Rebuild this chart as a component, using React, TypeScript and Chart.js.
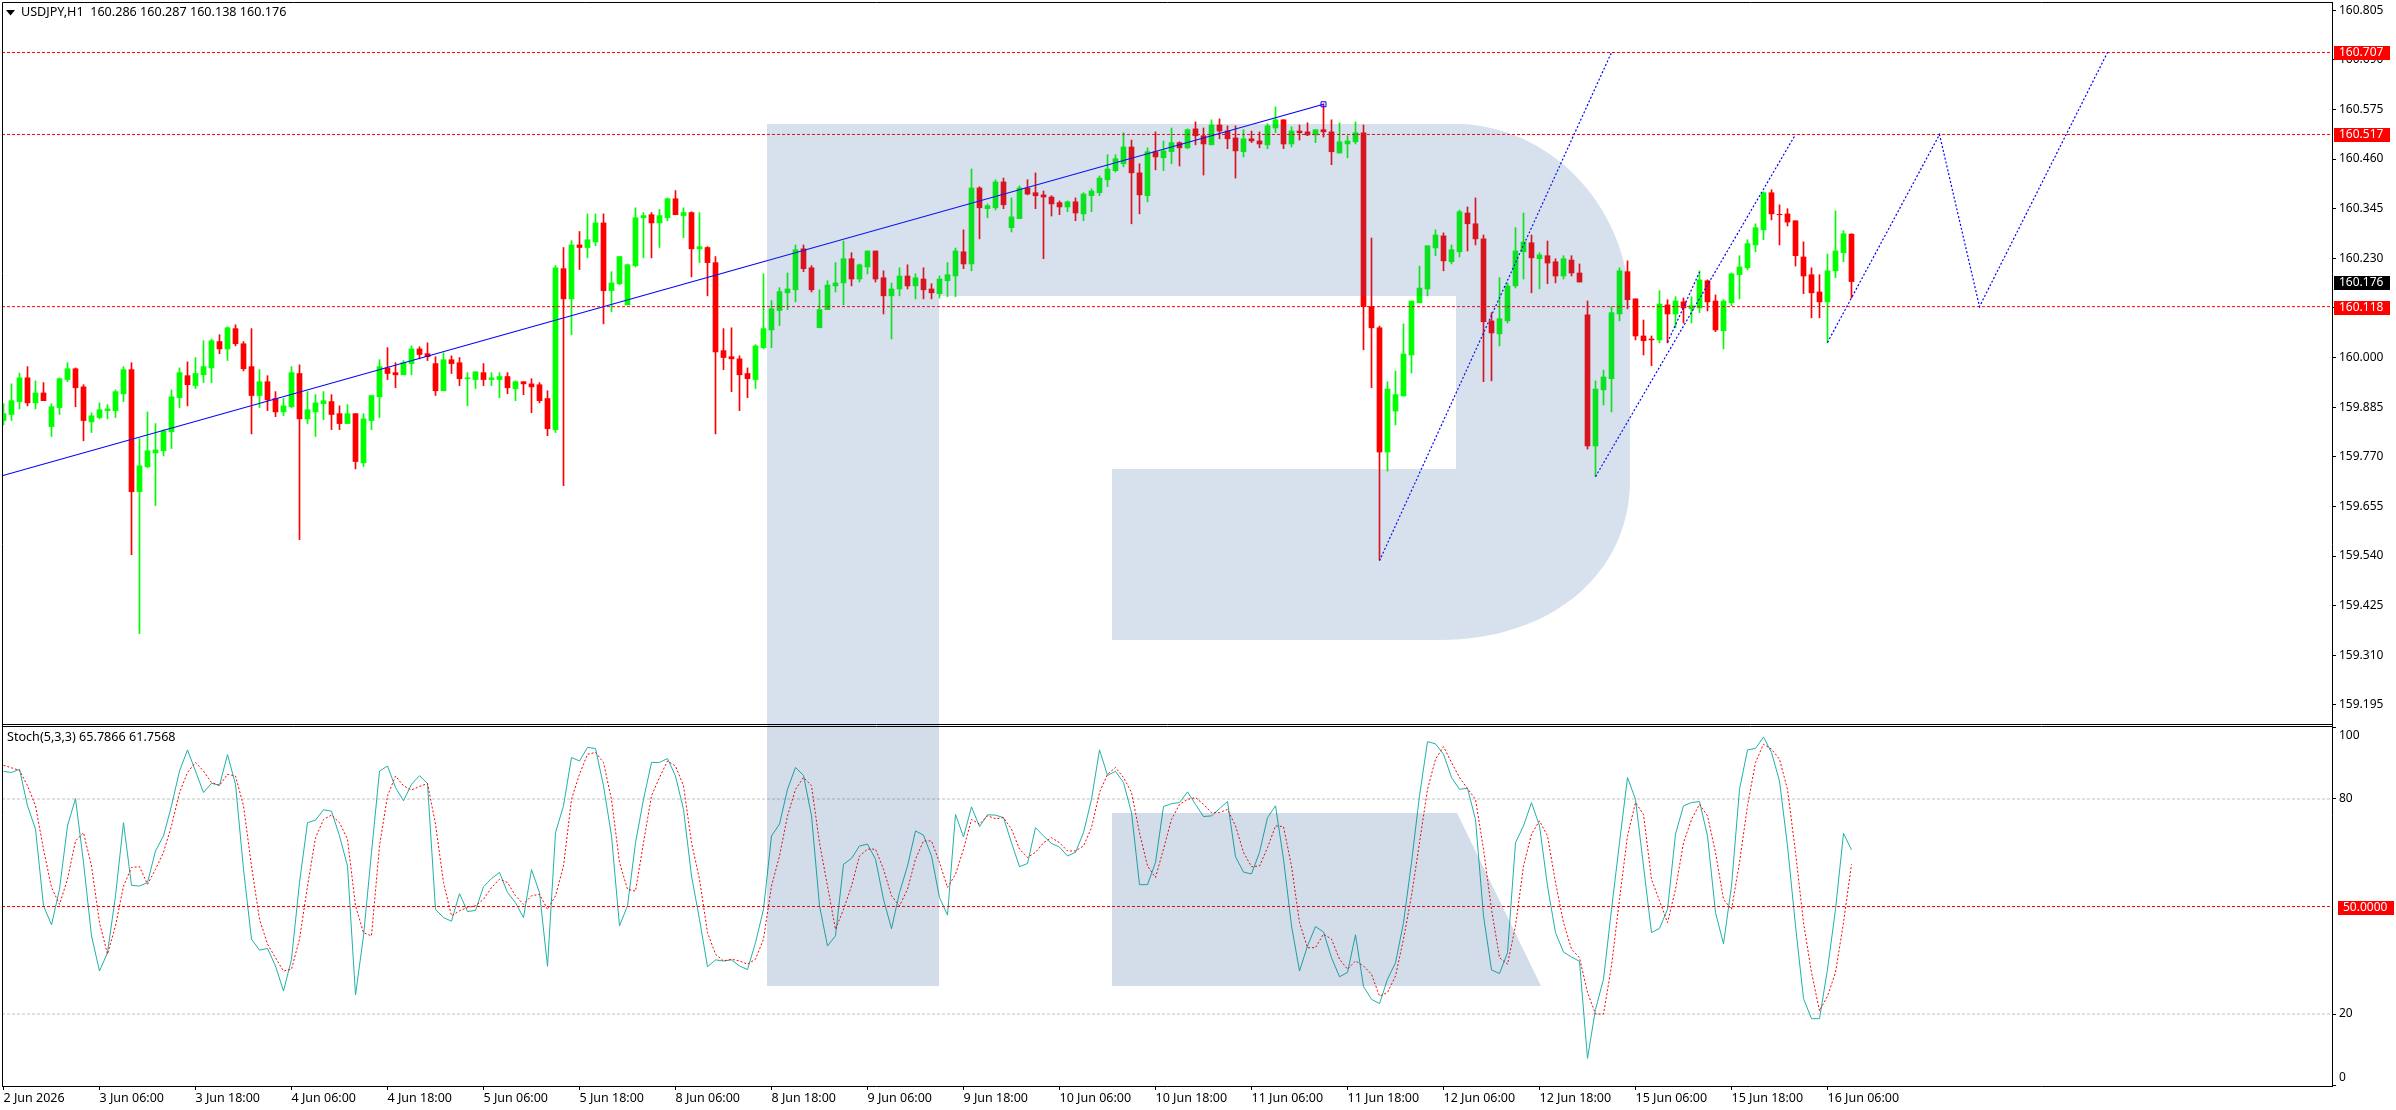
import React, { useEffect, useRef } from "react";
import { Chart, registerables } from "chart.js";

Chart.register(...registerables);

const opens = [
159.854,159.868,159.898,159.953,159.895,159.918,159.840,159.884,159.949,159.974,
159.932,159.851,159.861,159.877,159.877,159.916,159.972,159.689,159.747,159.779,
159.784,159.828,159.907,159.958,159.935,159.960,159.976,160.037,160.020,160.067,
160.032,159.979,159.912,159.944,159.905,159.874,159.886,159.963,159.858,159.874,
159.893,159.898,159.870,159.847,159.870,159.756,159.854,159.909,159.976,159.965,
159.960,159.986,160.020,160.009,159.986,159.923,159.995,159.988,159.951,159.949,
159.965,159.949,159.949,159.956,159.928,159.944,159.939,159.937,159.905,159.833,
160.206,160.136,160.261,160.255,160.268,160.312,160.155,160.171,160.122,160.213,
160.324,160.331,160.312,160.324,160.368,160.329,160.336,160.252,160.255,160.220,
160.016,160.002,159.997,159.963,159.949,160.023,160.064,160.109,160.150,160.157,
160.252,160.208,160.069,160.111,160.166,160.173,160.229,160.182,160.210,160.247,
160.185,160.143,160.159,160.189,160.166,160.182,160.159,160.148,160.178,160.189,
160.245,160.217,160.393,160.345,160.347,160.407,160.301,160.322,160.393,160.382,
160.377,160.372,160.359,160.349,160.361,160.333,160.375,160.382,160.412,160.433,
160.449,160.488,160.428,160.375,160.477,160.463,160.477,160.498,160.486,160.530,
160.514,160.493,160.539,160.525,160.509,160.477,160.507,160.502,160.493,160.532,
160.551,160.495,160.525,160.523,160.516,160.528,160.523,160.474,160.495,160.500,
160.521,160.118,160.069,159.781,159.876,159.911,160.006,160.127,160.159,160.254,
160.282,160.222,160.245,160.335,160.310,160.275,160.085,160.055,160.085,160.166,
160.245,160.266,160.229,160.236,160.222,160.189,160.226,160.196,160.099,159.795,
159.925,159.951,160.101,160.199,160.136,160.050,160.043,160.041,160.122,160.101,
160.129,160.113,160.115,160.178,160.131,160.062,160.127,160.192,160.208,160.261,
160.296,160.382,160.332,160.333,160.317,160.233,160.192,160.152,160.129,160.201,
160.243,160.286];
const highs = [
159.893,159.939,159.964,159.979,159.946,159.942,159.893,159.953,159.988,159.976,
159.937,159.872,159.895,159.891,159.925,159.979,159.988,159.812,159.874,159.847,
159.833,159.925,159.976,159.990,160.000,160.039,160.043,160.053,160.071,160.076,
160.037,160.067,159.972,159.958,159.921,159.905,159.979,159.983,159.921,159.914,
159.921,159.914,159.888,159.891,159.870,159.870,159.912,159.995,160.023,159.988,
159.993,160.027,160.025,160.034,160.002,160.011,160.004,160.000,159.965,159.967,
159.986,159.965,159.965,159.965,159.946,159.944,159.951,159.942,159.923,160.213,
160.255,160.271,160.292,160.333,160.333,160.333,160.199,160.234,160.217,160.347,
160.336,160.336,160.343,160.370,160.387,160.347,160.338,160.336,160.257,160.234,
160.067,160.069,160.004,159.976,160.030,160.194,160.132,160.162,160.196,160.261,
160.261,160.213,160.157,160.178,160.220,160.270,160.243,160.217,160.247,160.247,
160.201,160.173,160.208,160.215,160.194,160.208,160.171,160.189,160.220,160.254,
160.296,160.437,160.396,160.356,160.412,160.416,160.370,160.398,160.412,160.428,
160.386,160.375,160.363,160.363,160.370,160.382,160.391,160.421,160.470,160.470,
160.521,160.504,160.449,160.486,160.523,160.502,160.532,160.500,160.530,160.546,
160.532,160.551,160.553,160.537,160.537,160.528,160.525,160.523,160.542,160.581,
160.551,160.535,160.539,160.544,160.528,160.588,160.551,160.544,160.514,160.546,
160.539,160.277,160.073,159.944,159.969,160.078,160.131,160.212,160.259,160.296,
160.289,160.261,160.342,160.349,160.370,160.284,160.104,160.185,160.173,160.301,
160.335,160.284,160.243,160.270,160.229,160.236,160.236,160.217,160.131,159.946,
159.971,160.118,160.208,160.224,160.136,160.087,160.050,160.155,160.134,160.141,
160.138,160.141,160.201,160.180,160.145,160.134,160.196,160.236,160.273,160.310,
160.384,160.389,160.354,160.345,160.317,160.268,160.208,160.192,160.240,160.340,
160.294,160.287];
const lows = [
159.844,159.854,159.881,159.888,159.881,159.900,159.817,159.868,159.944,159.886,
159.807,159.826,159.858,159.858,159.861,159.898,159.543,159.360,159.745,159.657,
159.772,159.789,159.884,159.888,159.928,159.942,159.942,160.009,159.993,160.027,
159.969,159.823,159.884,159.877,159.863,159.865,159.884,159.578,159.847,159.817,
159.856,159.833,159.833,159.847,159.742,159.747,159.833,159.861,159.949,159.930,
159.960,159.960,159.997,159.993,159.912,159.923,159.963,159.935,159.888,159.928,
159.935,159.935,159.907,159.916,159.900,159.914,159.872,159.895,159.819,159.826,
159.703,160.053,160.204,160.231,160.259,160.078,160.106,160.169,160.122,160.210,
160.231,160.231,160.255,160.317,160.331,160.278,160.187,160.220,160.143,159.823,
159.972,159.921,159.877,159.907,159.928,160.020,160.023,160.074,160.111,160.129,
160.199,160.152,160.069,160.111,160.152,160.122,160.166,160.175,160.194,160.175,
160.101,160.043,160.143,160.159,160.136,160.136,160.136,160.138,160.141,160.141,
160.206,160.201,160.275,160.324,160.342,160.345,160.291,160.322,160.377,160.345,
160.229,160.328,160.331,160.338,160.317,160.317,160.338,160.375,160.396,160.430,
160.442,160.310,160.333,160.361,160.435,160.433,160.449,160.444,160.484,160.493,
160.423,160.493,160.507,160.484,160.416,160.465,160.498,160.486,160.484,160.521,
160.484,160.488,160.504,160.514,160.498,160.511,160.447,160.474,160.463,160.495,
160.018,159.930,159.531,159.737,159.844,159.911,159.964,160.127,160.143,160.236,
160.201,160.217,160.233,160.247,160.261,159.944,159.946,160.027,160.080,160.161,
160.182,160.150,160.159,160.171,160.173,160.182,160.189,160.175,159.788,159.724,
159.890,159.874,160.085,160.113,160.041,160.006,159.981,160.034,160.034,160.069,
160.080,160.080,160.104,160.108,160.060,160.020,160.120,160.136,160.203,160.245,
160.273,160.319,160.261,160.305,160.212,160.148,160.092,160.092,160.034,160.185,
160.222,160.138];
const closes = [
159.870,159.900,159.953,159.895,159.918,159.900,159.886,159.951,159.974,159.930,
159.854,159.865,159.879,159.881,159.921,159.972,159.689,159.749,159.784,159.786,
159.830,159.909,159.965,159.937,159.963,159.979,160.039,160.020,160.069,160.032,
159.974,159.912,159.944,159.902,159.874,159.888,159.965,159.858,159.879,159.895,
159.900,159.868,159.847,159.870,159.759,159.858,159.912,159.979,159.963,159.960,
159.988,160.020,160.007,160.002,159.923,159.995,159.986,159.951,159.953,159.967,
159.949,159.953,159.956,159.930,159.944,159.939,159.932,159.900,159.835,160.208,
160.136,160.261,160.255,160.273,160.312,160.155,160.173,160.234,160.215,160.324,
160.329,160.312,160.329,160.368,160.331,160.336,160.252,160.257,160.220,160.013,
160.000,159.997,159.960,159.951,160.027,160.067,160.113,160.153,160.159,160.250,
160.206,160.157,160.111,160.168,160.173,160.229,160.182,160.215,160.247,160.182,
160.143,160.159,160.189,160.166,160.185,160.157,160.150,160.182,160.192,160.247,
160.217,160.393,160.347,160.352,160.407,160.354,160.326,160.393,160.379,160.375,
160.372,160.356,160.349,160.361,160.335,160.379,160.386,160.416,160.437,160.461,
160.488,160.428,160.377,160.477,160.465,160.479,160.498,160.486,160.528,160.514,
160.495,160.539,160.525,160.507,160.479,160.507,160.502,160.495,160.537,160.551,
160.495,160.525,160.521,160.516,160.528,160.523,160.477,160.500,160.502,160.521,
160.118,160.069,159.781,159.927,159.914,160.008,160.131,160.161,160.259,160.284,
160.224,160.250,160.338,160.310,160.275,160.083,160.057,160.090,160.166,160.247,
160.268,160.231,160.238,160.219,160.189,160.229,160.196,160.175,159.795,159.927,
159.955,160.104,160.201,160.134,160.050,160.039,160.041,160.124,160.101,160.131,
160.115,160.120,160.180,160.129,160.064,160.131,160.194,160.210,160.264,160.301,
160.382,160.333,160.331,160.314,160.236,160.189,160.150,160.129,160.201,160.247,
160.287,160.176];

const stochK = [
87.7,87.4,88.3,78.1,71.6,50.2,44.9,54.8,72.5,80.1,62.3,41.8,32.0,37.1,53.0,73.4,55.9,55.7,56.7,65.5,
69.7,78.1,87.8,93.7,87.8,81.8,84.4,83.8,92.4,84.1,60.4,40.9,37.8,38.3,33.4,26.4,35.3,56.7,73.4,74.1,
77.0,76.6,69.7,61.3,25.3,41.8,65.1,87.8,89.2,83.2,79.5,84.1,86.5,84.3,49.2,46.9,45.9,53.6,48.6,48.9,
55.5,57.8,59.5,53.9,51.1,46.9,60.3,53.9,33.3,70.6,78.1,91.6,90.6,94.4,94.1,83.7,69.7,44.6,50.2,67.8,
79.9,90.2,90.2,91.3,86.4,77.1,58.5,46.4,33.2,35.1,34.8,35.1,33.4,32.4,39.9,49.2,69.7,73.0,82.7,88.8,
86.6,75.3,50.2,39.0,41.8,61.8,63.4,66.9,67.4,63.2,52.0,43.8,53.9,61.3,71.1,69.9,64.1,52.5,47.6,75.7,
69.4,77.8,72.3,75.6,75.5,74.8,67.8,61.1,62.0,72.0,69.7,67.6,66.6,64.1,65.1,70.6,79.9,93.7,86.6,87.7,
84.6,76.2,56.1,56.1,62.3,77.9,78.7,79.0,82.0,78.5,75.1,75.3,77.3,79.3,63.9,59.6,59.1,65.1,74.8,78.1,
63.2,44.6,32.0,39.0,44.4,42.9,35.7,30.4,31.6,42.1,27.7,24.1,22.9,29.7,34.3,45.5,62.3,80.9,96.0,95.4,
92.5,86.0,82.7,83.0,74.3,47.4,32.3,31.3,37.1,67.8,72.5,79.0,72.5,55.7,42.7,37.3,35.9,34.7,7.6,21.3,
29.7,49.2,67.8,86.0,79.9,61.3,42.7,43.9,49.2,70.2,78.1,79.0,79.3,69.7,48.3,39.6,55.7,82.7,93.7,94.1,
97.3,93.0,85.0,66.9,44.6,24.3,18.7,18.7,32.5,49.2,70.4,65.79];
const stochD = [
89.4,88.7,88.0,83.7,78.1,66.0,55.3,50.6,57.6,68.3,70.6,61.3,45.5,36.7,44.6,55.7,60.9,61.1,56.2,60.4,
65.1,72.5,81.8,87.4,90.2,87.8,84.6,83.8,86.9,86.4,78.1,61.3,46.4,39.5,35.7,32.0,32.5,40.9,55.7,69.2,
74.3,75.5,73.4,68.8,50.2,42.7,41.8,66.9,80.9,86.4,83.7,82.5,83.5,84.3,73.0,56.7,47.4,48.8,49.7,50.2,
52.0,55.3,57.6,56.7,53.0,50.6,53.0,53.4,49.2,53.0,61.3,79.9,86.9,92.5,93.0,90.2,79.9,62.3,54.8,54.3,
67.8,80.9,86.0,90.6,89.2,83.7,67.8,57.6,42.7,36.7,34.8,35.3,34.8,33.9,35.3,40.9,55.7,64.1,75.3,82.7,
86.0,83.7,67.8,55.7,43.6,49.2,55.7,64.1,66.0,66.0,60.4,53.0,50.2,54.8,63.2,68.3,68.3,62.3,55.3,59.0,
66.0,74.3,73.0,75.3,74.5,74.8,71.6,66.0,63.7,65.1,67.8,69.2,67.8,65.5,65.5,66.9,72.0,81.8,86.9,88.8,
86.0,81.8,70.6,61.3,58.1,66.0,74.3,78.5,79.9,80.4,78.5,76.2,76.2,77.1,72.5,65.1,61.1,61.3,66.4,72.5,
72.3,61.3,45.5,38.5,38.5,42.3,40.9,35.3,32.5,34.8,33.4,31.1,25.0,26.0,30.6,40.9,53.0,67.8,82.7,91.1,
94.6,90.2,86.0,82.9,79.9,66.0,49.2,35.7,33.9,44.6,61.3,70.2,73.9,69.7,56.7,45.5,38.1,35.7,26.0,20.0,
20.0,33.4,52.0,69.7,79.0,75.7,57.6,51.6,45.5,54.8,67.8,74.3,78.5,75.3,65.1,52.0,49.2,62.3,78.1,90.2,
95.3,93.9,91.1,82.7,65.1,45.5,31.6,20.9,25.0,31.6,45.5,61.76];

const timeLabels = [
"2 Jun 2026","3 Jun 06:00","3 Jun 18:00","4 Jun 06:00","4 Jun 18:00","5 Jun 06:00","5 Jun 18:00",
"8 Jun 06:00","8 Jun 18:00","9 Jun 06:00","9 Jun 18:00","10 Jun 06:00","10 Jun 18:00","11 Jun 06:00",
"11 Jun 18:00","12 Jun 06:00","12 Jun 18:00","15 Jun 06:00","15 Jun 18:00","16 Jun 06:00"];
const priceTicks = [160.805,160.69,160.575,160.46,160.345,160.23,160.115,160.0,159.885,159.77,159.655,159.54,159.425,159.31,159.195];
const stochTicks = [100, 80, 20, 0];
const redLevels = [160.707, 160.517, 160.118];
const lastPrice = 160.176;
const stochMid = 50;
const stochBands = [80, 20];
const trendLine = [[-0.1875, 159.726], [165, 160.587]];
const forecastA = [[172, 159.529], [201, 160.707]];
const forecastB = [[199, 159.724], [224, 160.517]];
const forecastC = [[228, 160.035], [242, 160.517], [247, 160.118], [263, 160.707]];
const forecastD = [[208, 160.035], [212, 160.198]];

const headerText = "USDJPY,H1  160.286 160.287 160.138 160.176";
const stochText = "Stoch(5,3,3) 65.7866 61.7568";

const FONT = '12px "Noto Sans"';
const FONT_CAPTION = '12.6px "Noto Sans"';
const X_MIN = -0.1875;
const X_MAX = 291.1875;

const pts = (a: number[][]) => a.map(([x, y]) => ({ x, y }));
const flat = (v: number) => [{ x: X_MIN, y: v }, { x: X_MAX, y: v }];

const panePlugin = {
  id: "pane",
  beforeDraw(chart: any) {
    const c = chart.ctx;
    c.save();
    c.fillStyle = "#fff";
    c.fillRect(0, 0, chart.width, chart.height);
    c.restore();
  },
  afterLayout(chart: any) {
    // exact pane geometry of the terminal window
    const { x, y, y2 } = chart.scales;
    x.left = 2; x.right = 2333; x.width = 2331; x.configure();
    y.top = 2; y.bottom = 725; y.height = 723; y.left = 2333; y.right = 2396; y.configure();
    y2.top = 725; y2.bottom = 1087; y2.height = 362; y2.left = 2333; y2.right = 2396; y2.configure();
    const a = chart.chartArea;
    a.left = 2; a.right = 2333; a.top = 2; a.bottom = 1087; a.width = 2331; a.height = 1085;
  },
  afterDatasetsDraw(chart: any) {
    const c = chart.ctx;
    c.save();
    c.fillStyle = "rgba(55,105,165,0.2)";
    c.beginPath();
    c.moveTo(767, 124);
    c.lineTo(1463, 124);
    c.bezierCurveTo(1560, 130, 1630, 215, 1630, 310);
    c.lineTo(1630, 480);
    c.bezierCurveTo(1630, 575, 1550, 640, 1440, 640);
    c.lineTo(1112, 640);
    c.lineTo(1112, 469);
    c.lineTo(1456, 469);
    c.lineTo(1456, 296);
    c.lineTo(939, 296);
    c.lineTo(939, 724);
    c.lineTo(767, 724);
    c.closePath();
    c.fill();
    c.fillStyle = "rgba(35,80,145,0.2)";
    c.beginPath();
    c.moveTo(767, 724);
    c.lineTo(939, 724);
    c.lineTo(939, 986);
    c.lineTo(767, 986);
    c.closePath();
    c.moveTo(1112, 813);
    c.lineTo(1457, 813);
    c.lineTo(1541, 986);
    c.lineTo(1112, 986);
    c.closePath();
    c.fill();
    c.restore();
  },
  afterDraw(chart: any) {
    const c = chart.ctx;
    const y = chart.scales.y;
    const y2 = chart.scales.y2;
    c.save();
    c.strokeStyle = "#000";
    c.lineWidth = 1;
    const line = (x1: number, y1: number, x2: number, y2b: number) => {
      c.beginPath();
      c.moveTo(x1, y1);
      c.lineTo(x2, y2b);
      c.stroke();
    };
    line(2.5, 2.5, 2333, 2.5);
    line(2.5, 2.5, 2.5, 1087);
    line(2332.5, 2.5, 2332.5, 1087);
    line(2.5, 724.5, 2333, 724.5);
    line(2.5, 726.5, 2333, 726.5);
    line(2.5, 1086.5, 2333, 1086.5);

    c.textBaseline = "middle";
    c.textAlign = "left";
    // header
    c.fillStyle = "#000";
    c.beginPath();
    c.moveTo(6, 10);
    c.lineTo(15, 10);
    c.lineTo(10.5, 15.5);
    c.closePath();
    c.fill();
    c.font = FONT_CAPTION;
    c.fillText(headerText, 21, 12.5);
    c.fillText(stochText, 7, 737.5);
    c.font = FONT;
    // stochastic axis labels, kept inside the pane as the terminal does
    stochTicks.forEach((v) => {
      const py = Math.min(1078, Math.max(735.5, y2.getPixelForValue(v)));
      c.fillStyle = "#000";
      c.fillText(String(v), 2339, py);
    });
    // price tags
    const tag = (text: string, py: number, bg: string, x0: number, w: number) => {
      c.fillStyle = bg;
      c.fillRect(x0, Math.round(py) - 6, w, 14);
      c.fillStyle = "#fff";
      c.fillText(text, x0 + 5, Math.round(py) + 1);
    };
    redLevels.forEach((v) => tag(v.toFixed(3), y.getPixelForValue(v), "#FF0000", 2334, 56));
    tag(lastPrice.toFixed(3), y.getPixelForValue(lastPrice), "#000000", 2334, 56);
    tag(stochMid.toFixed(4), y2.getPixelForValue(stochMid), "#FF0000", 2338, 56);
    c.restore();
  },
};

export default function App() {
  const ref = useRef<HTMLCanvasElement | null>(null);
  useEffect(() => {
    if (!ref.current) return;
    const idx = opens.map((_, i) => i);
    const candleColor = (i: number) =>
      closes[i] > opens[i] ? "#00FF00" : closes[i] < opens[i] ? "#FF0000" : "#000000";
    const lineBase = {
      type: "line" as const,
      pointRadius: 0,
      borderWidth: 1,
      tension: 0,
      fill: false,
      xAxisID: "x",
    };
    const chart = new Chart(ref.current, {
      type: "bar",
      data: {
        datasets: [
          {
            type: "bar",
            label: "Wicks",
            data: idx.map((i) => ({ x: i, y: [lows[i], highs[i]] })),
            backgroundColor: idx.map(candleColor),
            barThickness: 1,
            grouped: false,
            xAxisID: "x",
            yAxisID: "y",
            order: 9,
          },
          {
            type: "bar",
            label: "Bodies",
            data: idx.map((i) => ({ x: i, y: [opens[i], closes[i] === opens[i] ? closes[i] + 0.002 : closes[i]] })),
            backgroundColor: idx.map(candleColor),
            barThickness: 5,
            grouped: false,
            xAxisID: "x",
            yAxisID: "y",
            order: 8,
          },
          ...redLevels.map((v) => ({
            ...lineBase,
            label: "Level " + v,
            data: flat(v),
            borderColor: "#FF0000",
            borderDash: [3, 2],
            yAxisID: "y",
            order: 3,
          })),
          {
            ...lineBase,
            label: "Trend",
            data: pts(trendLine),
            borderColor: "#0000FF",
            borderWidth: 1.2,
            yAxisID: "y",
            order: 2,
            pointRadius: [0, 3.5],
            pointBorderWidth: 1,
            pointStyle: "rect",
            pointBorderColor: "#0000FF",
            pointBackgroundColor: "rgba(255,255,255,0)",
          },
          ...[forecastA, forecastB, forecastC, forecastD].map((f, n) => ({
            ...lineBase,
            label: "Forecast " + n,
            data: pts(f),
            borderColor: "#0000FF",
            borderWidth: 1.2,
            borderDash: [2, 2],
            yAxisID: "y",
            order: 2,
          })),
          ...stochBands.map((v) => ({
            ...lineBase,
            label: "Band " + v,
            data: flat(v),
            borderColor: "#C0C0C0",
            borderDash: [3, 2],
            yAxisID: "y2",
            order: 7,
          })),
          {
            ...lineBase,
            label: "%K",
            data: idx.map((i) => ({ x: i, y: stochK[i] })),
            borderColor: "#20B2AA",
            yAxisID: "y2",
            order: 6,
          },
          {
            ...lineBase,
            label: "%D",
            data: idx.map((i) => ({ x: i, y: stochD[i] })),
            borderColor: "#FF0000",
            borderDash: [2, 2],
            yAxisID: "y2",
            order: 5,
          },
          {
            ...lineBase,
            label: "Mid",
            data: flat(stochMid),
            borderColor: "#FF0000",
            borderDash: [3, 2],
            yAxisID: "y2",
            order: 4,
          },
        ] as any,
      },
      options: {
        responsive: false,
        animation: false,
        devicePixelRatio: 1,
        layout: { padding: { left: 2, top: 2, right: 0, bottom: 0 } },
        plugins: { legend: { display: false }, tooltip: { enabled: false }, title: { display: false } },
        events: [],
        scales: {
          x: {
            type: "linear",
            position: "bottom",
            offset: false,
            min: X_MIN,
            max: X_MAX,
            afterBuildTicks: (s: any) => {
              s.ticks = timeLabels.map((_, n) => ({ value: n * 12 }));
            },
            afterFit: (s: any) => {
              s.height = 23;
              s.paddingLeft = 0;
              s.paddingRight = 0;
            },
            ticks: {
              autoSkip: false,
              maxRotation: 0,
              minRotation: 0,
              align: "start",
              padding: 1,
              color: "#000",
              font: { family: "Noto Sans", size: 12.5 },
              callback: (v: any) => timeLabels[Math.round(Number(v) / 12)],
            },
            grid: { drawOnChartArea: false, drawTicks: true, tickLength: 3, color: "#000", offset: false },
            border: { display: false },
          },
          y: {
            type: "linear",
            position: "right",
            stack: "panes",
            stackWeight: 723,
            min: 159.1484,
            max: 160.824,
            afterBuildTicks: (s: any) => {
              s.ticks = priceTicks.map((value) => ({ value }));
            },
            afterFit: (s: any) => {
              s.width = 63;
              s.paddingTop = 0;
              s.paddingBottom = 0;
            },
            ticks: {
              autoSkip: false,
              padding: 3,
              color: "#000",
              font: { family: "Noto Sans", size: 12 },
              callback: (v: any) => Number(v).toFixed(3),
            },
            grid: { drawOnChartArea: false, drawTicks: true, tickLength: 3, color: "#000" },
            border: { display: false },
          },
          y2: {
            type: "linear",
            position: "right",
            stack: "panes",
            stackWeight: 362,
            min: -0.37,
            max: 100.65,
            afterBuildTicks: (s: any) => {
              s.ticks = stochTicks.map((value) => ({ value }));
            },
            afterFit: (s: any) => {
              s.width = 63;
              s.paddingTop = 0;
              s.paddingBottom = 0;
            },
            ticks: { autoSkip: false, padding: 3, color: "rgba(0,0,0,0)", font: { family: "Noto Sans", size: 12 } },
            grid: { drawOnChartArea: false, drawTicks: true, tickLength: 3, color: "#000" },
            border: { display: false },
          },
        },
      } as any,
      plugins: [panePlugin],
    });
    return () => chart.destroy();
  }, []);
  return (
    <div style={{ position: "absolute", left: 0, top: 0, width: 2396, height: 1110, background: "#fff" }}>
      <canvas ref={ref} width={2396} height={1110} style={{ display: "block", width: 2396, height: 1110 }} />
    </div>
  );
}
